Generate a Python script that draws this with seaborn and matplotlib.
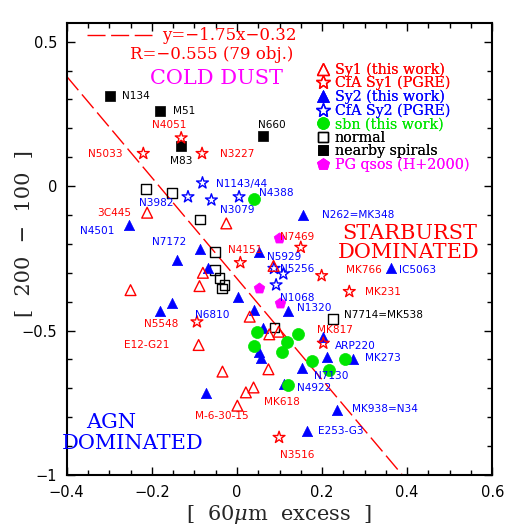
import numpy as np
import matplotlib
matplotlib.use("Agg")
import matplotlib.pyplot as plt
import seaborn as sns
from matplotlib.lines import Line2D
from matplotlib.ticker import MultipleLocator

# ---------------- data ----------------
sy1_x = [-0.211, -0.025, -0.080, -0.088, -0.250, 0.086, 0.030, 0.076, 0.098, -0.090, -0.034, 0.074, 0.021, 0.039, 0.001]
sy1_y = [-0.092, -0.129, -0.300, -0.346, -0.360, -0.276, -0.452, -0.513, -0.504, -0.550, -0.642, -0.634, -0.714, -0.697, -0.760]

cfa1_x = [-0.131, -0.220, -0.082, 0.008, 0.150, 0.199, 0.264, -0.094, 0.203, 0.099]
cfa1_y = [0.167, 0.113, 0.113, -0.265, -0.212, -0.310, -0.365, -0.470, -0.544, -0.870]

sy2_x = [0.155, -0.254, -0.141, -0.086, 0.052, -0.067, 0.002, -0.152, -0.180, 0.039, 0.061, 0.051,
         0.057, -0.072, 0.111, 0.363, 0.119, 0.203, 0.212, 0.273, 0.154, 0.236, 0.164]
sy2_y = [-0.100, -0.135, -0.256, -0.219, -0.227, -0.285, -0.383, -0.406, -0.432, -0.429, -0.490, -0.573,
         -0.596, -0.717, -0.685, -0.285, -0.431, -0.523, -0.593, -0.599, -0.630, -0.774, -0.847]

cfa2_x = [-0.081, -0.115, -0.060, 0.005, 0.087, 0.109, 0.092]
cfa2_y = [0.011, -0.037, -0.048, -0.037, -0.285, -0.304, -0.342]

sbn_x = [0.041, 0.047, 0.039, 0.105, 0.118, 0.144, 0.176, 0.254, 0.216, 0.120]
sbn_y = [-0.046, -0.506, -0.552, -0.573, -0.540, -0.512, -0.604, -0.599, -0.636, -0.688]

normal_x = [-0.213, -0.152, -0.087, -0.052, -0.052, -0.041, -0.029, -0.035, 0.088, 0.225]
normal_y = [-0.010, -0.023, -0.115, -0.229, -0.290, -0.319, -0.342, -0.354, -0.490, -0.460]

spiral_x = [-0.299, -0.180, -0.132, 0.062]
spiral_y = [0.311, 0.259, 0.138, 0.175]

pg_x = [0.098, 0.053, 0.101]
pg_y = [-0.181, -0.354, -0.406]

fit_slope = -1.75
fit_intercept = -0.32
fit_label = "y=\u22121.75x\u22120.32"
fit_stats = "R=\u22120.555 (79 obj.)"

legend_labels = ["Sy1 (this work)", "CfA Sy1 (PGRE)", "Sy2 (this work)", "CfA Sy2 (PGRE)",
                 "sbn (this work)", "normal", "nearby spirals", "PG qsos (H+2000)"]

# object names: (text, x, y, ha, colour)
name_labels = [
    ("N134", -0.270, 0.311, "left", "black"),
    ("M51", -0.150, 0.259, "left", "black"),
    ("N4051", -0.160, 0.211, "center", "red"),
    ("M83", -0.132, 0.087, "center", "black"),
    ("N5033", -0.268, 0.113, "right", "red"),
    ("N3227", -0.039, 0.113, "left", "red"),
    ("N660", 0.083, 0.211, "center", "black"),
    ("N1143/44", -0.049, 0.007, "left", "blue"),
    ("N3982", -0.190, -0.058, "center", "blue"),
    ("N3079", 0.001, -0.083, "center", "blue"),
    ("N4388", 0.051, -0.025, "left", "blue"),
    ("3C445", -0.248, -0.092, "right", "red"),
    ("N4501", -0.289, -0.156, "right", "blue"),
    ("N7172", -0.159, -0.193, "center", "blue"),
    ("N262=MK348", 0.201, -0.100, "left", "blue"),
    ("N4151", 0.019, -0.221, "center", "red"),
    ("N7469", 0.142, -0.175, "center", "red"),
    ("N5929", 0.111, -0.244, "center", "blue"),
    ("N5256", 0.101, -0.287, "left", "blue"),
    ("MK766", 0.340, -0.290, "right", "red"),
    ("IC5063", 0.380, -0.290, "left", "blue"),
    ("MK231", 0.301, -0.365, "left", "red"),
    ("N1068", 0.142, -0.386, "center", "blue"),
    ("N1320", 0.141, -0.423, "left", "blue"),
    ("N7714=MK538", 0.252, -0.446, "left", "black"),
    ("N6810", -0.059, -0.446, "center", "blue"),
    ("N5548", -0.137, -0.477, "right", "red"),
    ("MK817", 0.230, -0.498, "center", "red"),
    ("ARP220", 0.230, -0.555, "left", "blue"),
    ("E12-G21", -0.158, -0.550, "right", "red"),
    ("MK273", 0.301, -0.596, "left", "blue"),
    ("N7130", 0.221, -0.657, "center", "blue"),
    ("N4922", 0.141, -0.699, "left", "blue"),
    ("MK618", 0.105, -0.749, "center", "red"),
    ("M-6-30-15", -0.035, -0.797, "center", "red"),
    ("MK938=N34", 0.271, -0.771, "left", "blue"),
    ("E253-G3", 0.191, -0.849, "left", "blue"),
    ("N3516", 0.141, -0.930, "center", "red"),
]

# ---------------- style ----------------
sns.set_style("ticks")
plt.rcParams["font.family"] = ["DejaVu Sans"]
plt.rcParams["mathtext.fontset"] = "dejavuserif"
SERIF = "DejaVu Serif"

fig = plt.figure(figsize=(5.08, 5.27), dpi=100)
ax = fig.add_axes([0.1313, 0.0987, 0.8378, 0.8583])

xlim = (-0.4, 0.6)
ylim = (-1.0, 0.566)

# regression line
fit_x = np.array(xlim)
fit_y = fit_slope * fit_x + fit_intercept
dash = (0, (13, 4))
sns.lineplot(x=fit_x, y=fit_y, ax=ax, color="red", linewidth=1.0, linestyle=dash,
             sort=False, estimator=None, zorder=2)


def pts(x, y, marker, s, fc, ec, lw=1.0, z=3):
    sns.scatterplot(x=x, y=y, marker=marker, s=s, facecolor=fc, edgecolor=ec,
                    linewidth=lw, ax=ax, zorder=z, legend=False)


pts(normal_x, normal_y, "s", 48, "none", "black", 1.0)
pts(spiral_x, spiral_y, "s", 48, "black", "black", 0.5)
pts(sy2_x, sy2_y, "^", 55, "blue", "blue", 0.5)
pts(cfa2_x, cfa2_y, "*", 80, "none", "blue", 1.0)
pts(sy1_x, sy1_y, "^", 60, "none", "red", 1.0)
pts(cfa1_x, cfa1_y, "*", 80, "none", "red", 1.0)
pts(sbn_x, sbn_y, "o", 75, "#00e600", "#00e600", 0.5)
pts(pg_x, pg_y, "p", 65, "magenta", "magenta", 0.5)

ax.set_xlim(*xlim)
ax.set_ylim(*ylim)

# ticks
ax.xaxis.set_major_locator(MultipleLocator(0.2))
ax.xaxis.set_minor_locator(MultipleLocator(0.05))
ax.yaxis.set_major_locator(MultipleLocator(0.5))
ax.yaxis.set_minor_locator(MultipleLocator(0.1))
ax.tick_params(which="both", direction="in", top=True, right=True, colors="black")
ax.tick_params(which="major", length=6, width=1.0, labelsize=10.5, pad=7)
ax.tick_params(which="minor", length=3.6, width=1.0)
ax.xaxis.set_major_formatter(matplotlib.ticker.FuncFormatter(
    lambda v, p: ("%g" % round(v, 3)).replace("-", "\u2212")))
ax.yaxis.set_major_formatter(matplotlib.ticker.FuncFormatter(
    lambda v, p: ("%g" % round(v, 3)).replace("-", "\u2212")))
for sp in ax.spines.values():
    sp.set_linewidth(1.5)
    sp.set_color("black")

ax.set_xlabel("[  60$\\mu$m  excess  ]", family=SERIF, fontsize=15)
ax.set_ylabel("[  200  \u2212  100  ]", family=SERIF, fontsize=15)
ax.xaxis.set_label_coords(0.499, -0.062)
ax.yaxis.set_label_coords(-0.077, 0.533)

# names
for t, x, y, ha, c in name_labels:
    ax.text(x, y, t, ha=ha, va="center", color=c, fontsize=7.6, zorder=4)

# region texts
ax.text(-0.047, 0.371, "COLD DUST", color="magenta", family=SERIF, fontsize=15,
        ha="center", va="center")
ax.text(0.405, -0.163, "STARBURST", color="red", family=SERIF, fontsize=15,
        ha="center", va="center")
ax.text(0.404, -0.230, "DOMINATED", color="red", family=SERIF, fontsize=15,
        ha="center", va="center")
ax.text(-0.295, -0.820, "AGN", color="blue", family=SERIF, fontsize=15,
        ha="center", va="center")
ax.text(-0.246, -0.891, "DOMINATED", color="blue", family=SERIF, fontsize=15,
        ha="center", va="center")
ax.text(0.133, 0.455, fit_stats, color="red", family=SERIF, fontsize=12,
        ha="right", va="center")

# legend of classes
handles = [
    Line2D([], [], ls="none", marker="^", ms=8, mfc="none", mec="red", mew=1.0),
    Line2D([], [], ls="none", marker="*", ms=10, mfc="none", mec="red", mew=1.0),
    Line2D([], [], ls="none", marker="^", ms=8, mfc="blue", mec="blue", mew=0.5),
    Line2D([], [], ls="none", marker="*", ms=10, mfc="none", mec="blue", mew=1.0),
    Line2D([], [], ls="none", marker="o", ms=8.5, mfc="#00e600", mec="#00e600", mew=0.5),
    Line2D([], [], ls="none", marker="s", ms=7, mfc="none", mec="black", mew=1.0),
    Line2D([], [], ls="none", marker="s", ms=7, mfc="black", mec="black", mew=0.5),
    Line2D([], [], ls="none", marker="p", ms=9, mfc="magenta", mec="magenta", mew=0.5),
]
lab_colors = ["red", "red", "blue", "blue", "#00e600", "black", "black", "magenta"]
leg = ax.legend(handles, legend_labels, loc="upper left", bbox_to_anchor=(0.621, 0.882),
                bbox_transform=fig.transFigure, frameon=False,
                prop={"family": SERIF, "size": 10.3},
                handlelength=1.0, handletextpad=0.35, labelspacing=-0.04,
                borderpad=0, borderaxespad=0, labelcolor=lab_colors)
ax.add_artist(leg)

fit_handle = Line2D([], [], color="red", lw=1.0, ls=dash)
fig.legend([fit_handle], [fit_label], loc="upper left", bbox_to_anchor=(0.1707, 0.948),
           frameon=False, prop={"family": SERIF, "size": 12},
           handlelength=3.9, handletextpad=0.6, borderpad=0, borderaxespad=0,
           labelcolor="red")

fig.savefig("out.png", dpi=100)
